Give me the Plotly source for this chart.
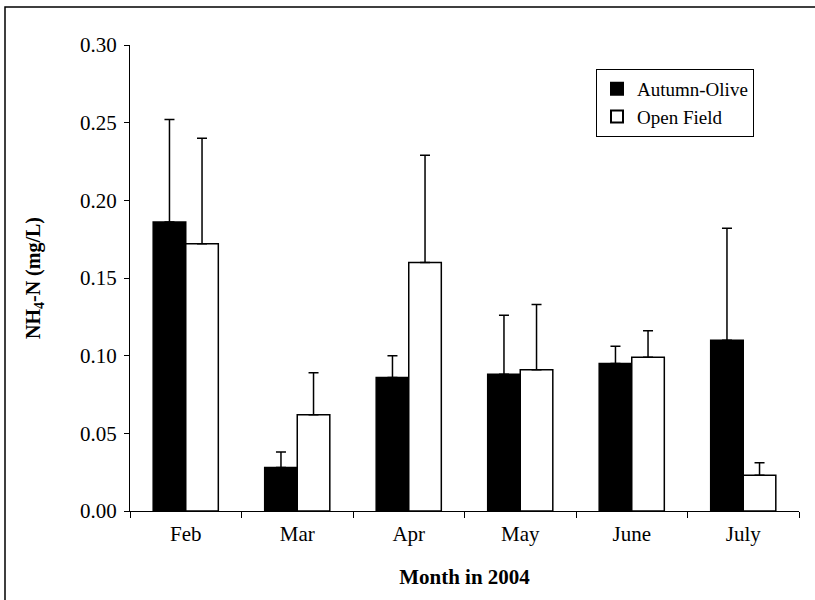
import plotly.graph_objects as go

months = ["Feb", "Mar", "Apr", "May", "June", "July"]
autumn_olive = [0.186, 0.028, 0.086, 0.088, 0.095, 0.110]
autumn_olive_err = [0.066, 0.010, 0.014, 0.038, 0.011, 0.072]
open_field = [0.172, 0.062, 0.160, 0.091, 0.099, 0.023]
open_field_err = [0.068, 0.027, 0.069, 0.042, 0.017, 0.008]

FONT = "Liberation Serif, Times New Roman, serif"

fig = go.Figure()
fig.add_trace(go.Bar(
    x=months, y=autumn_olive, name="Autumn-Olive",
    marker=dict(color="black", line=dict(color="black", width=1.5)),
    error_y=dict(type="data", symmetric=False, array=autumn_olive_err,
                 arrayminus=[0] * len(months), color="black", thickness=1.5, width=5),
))
fig.add_trace(go.Bar(
    x=months, y=open_field, name="Open Field",
    marker=dict(color="white", line=dict(color="black", width=1.5)),
    error_y=dict(type="data", symmetric=False, array=open_field_err,
                 arrayminus=[0] * len(months), color="black", thickness=1.5, width=5),
))

L, R, T, B = 130, 16, 45, 89
W, H = 815, 600
pw, ph = W - L - R, H - T - B

fig.update_layout(
    width=W, height=H,
    margin=dict(l=L, r=R, t=T, b=B, autoexpand=False),
    paper_bgcolor="white", plot_bgcolor="white",
    barmode="group", bargap=0.416, bargroupgap=0,
    font=dict(family=FONT, size=20, color="black"),
    legend=dict(
        x=(596 - L) / pw, y=1 - (69 - T) / ph, xanchor="left", yanchor="top",
        bordercolor="black", borderwidth=1, bgcolor="white",
        font=dict(family=FONT, size=19, color="black"),
        itemsizing="constant", tracegroupgap=2,
    ),
    xaxis=dict(
        showline=True, linecolor="black", linewidth=1,
        ticks="outside", tickson="boundaries", ticklen=6, tickcolor="black",
        tickfont=dict(family=FONT, size=21), ticklabelstandoff=4,
        title=dict(text="<b>Month in 2004</b>", font=dict(family=FONT, size=21), standoff=24),
        showgrid=False, zeroline=False,
    ),
    yaxis=dict(
        range=[0, 0.30], dtick=0.05, tickformat=".2f",
        showline=True, linecolor="black", linewidth=1,
        ticks="outside", ticklen=5, tickcolor="black",
        tickfont=dict(family=FONT, size=21), ticklabelstandoff=3,
        title=dict(text="<b>NH<sub>4</sub>-N (mg/L)</b>", font=dict(family=FONT, size=20), standoff=34),
        showgrid=False, zeroline=False,
    ),
    shapes=[dict(
        type="rect", xref="paper", yref="paper",
        x0=(5 - L) / pw, x1=(W + 10 - L) / pw,
        y0=1 + (T - 7) / ph, y1=-(H + 10 - T - ph) / ph,
        line=dict(color="black", width=1.5), fillcolor="rgba(0,0,0,0)", layer="below",
    )],
)

fig.write_html(
    "out.html",
    config={"displayModeBar": False},
    post_script="document.body.style.margin='0';document.body.style.overflow='hidden';",
)
